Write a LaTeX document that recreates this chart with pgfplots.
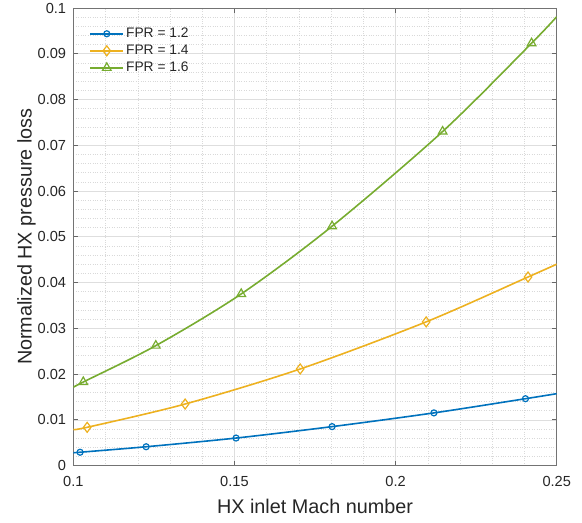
\documentclass[border=0pt]{standalone}
\usepackage{fontspec}
\setmainfont{Liberation Sans}
\usepackage{pgfplots}
\pgfplotsset{compat=1.18}
\usetikzlibrary{plotmarks}
\definecolor{mblue}{rgb}{0,0.447,0.741}
\definecolor{myellow}{rgb}{0.929,0.694,0.125}
\definecolor{mgreen}{rgb}{0.466,0.674,0.188}
\definecolor{txtgray}{rgb}{0.15,0.15,0.15}
\pgfplotsset{
  legmark/.style 2 args={legend image code/.code={%
    \draw[##1, mark=#1, mark size=#2, mark repeat=2, mark phase=2, mark options={solid, line width=1.2pt}]
      plot coordinates {(0pt,0pt) (16.5pt,0pt) (33pt,0pt)};}},
}
\begin{document}
\begin{tikzpicture}
\begin{axis}[
  scale only axis, width=483.4pt, height=457.5pt,
  xmin=0.1, xmax=0.25, ymin=0, ymax=0.1,
  xtick={0.1,0.15,0.2,0.25}, xticklabels={0.1,0.15,0.2,0.25},
  ytick={0,0.01,0.02,0.03,0.04,0.05,0.06,0.07,0.08,0.09,0.1},
  yticklabels={0,0.01,0.02,0.03,0.04,0.05,0.06,0.07,0.08,0.09,0.1},
  minor x tick num=4, minor y tick num=4,
  grid=both,
  major grid style={black!13, line width=0.5pt},
  minor grid style={black!15, dotted, line width=0.5pt},
  tick align=inside,
  major tick length=5pt, minor tick length=0pt,
  axis line style={black!55, line width=0.7pt},
  tick style={black!60, line width=0.7pt},
  /pgf/number format/assume math mode=true,
  tick label style={font=\fontsize{14.6}{17}\selectfont, text=txtgray},
  xticklabel style={anchor=north, inner sep=0pt, yshift=-10.5pt},
  yticklabel style={anchor=east, inner sep=0pt, xshift=-7pt},
  xlabel={HX inlet Mach number},
  ylabel={Normalized HX pressure loss},
  label style={font=\fontsize{19.8}{23}\selectfont, text=txtgray},
  xlabel style={at={(axis description cs:0.5,-0.1045)}, anchor=base, inner sep=0pt},
  ylabel style={at={(axis description cs:-0.0861,0.5)}, anchor=base, inner sep=0pt},
  legend style={at={(axis description cs:0,1)}, anchor=north west,
    xshift=13pt, yshift=-16pt, draw=none, fill=none,
    font=\fontsize{13.8}{16}\selectfont, text=txtgray, row sep=2pt},
  legend cell align=left,
]
% FPR = 1.2
\addplot[mblue, line width=1.6pt, smooth, legmark={o}{3pt}]
  coordinates {(0.1,0.0028) (0.1021,0.0029) (0.1226,0.0041) (0.1505,0.0060) (0.1803,0.0085) (0.2119,0.0115) (0.2403,0.0146) (0.25,0.0157)};
\addlegendentry{FPR = 1.2}
% FPR = 1.4
\addplot[myellow, line width=1.6pt, smooth, legmark={diamond}{5pt}]
  coordinates {(0.1,0.0079) (0.1043,0.00835) (0.1347,0.01344) (0.1704,0.0211) (0.2095,0.0314) (0.2411,0.0412) (0.25,0.0440)};
\addlegendentry{FPR = 1.4}
% FPR = 1.6
\addplot[mgreen, line width=1.6pt, smooth, legmark={triangle}{5pt}]
  coordinates {(0.1,0.0171) (0.1031,0.01825) (0.1256,0.0262) (0.1521,0.0375) (0.1803,0.0523) (0.2146,0.0730) (0.2422,0.0923) (0.25,0.0981)};
\addlegendentry{FPR = 1.6}
% markers
\addplot[mblue, only marks, mark=o, mark size=3pt, mark options={line width=1.2pt}, forget plot]
  coordinates {(0.1021,0.0029) (0.1226,0.0041) (0.1505,0.0060) (0.1803,0.0085) (0.2119,0.0115) (0.2403,0.0146)};
\addplot[myellow, only marks, mark=diamond, mark size=5pt, mark options={line width=1.2pt}, forget plot]
  coordinates {(0.1043,0.00835) (0.1347,0.01344) (0.1704,0.0211) (0.2095,0.0314) (0.2411,0.0412)};
\addplot[mgreen, only marks, mark=triangle, mark size=5pt, mark options={line width=1.2pt}, forget plot]
  coordinates {(0.1031,0.01825) (0.1256,0.0262) (0.1521,0.0375) (0.1803,0.0523) (0.2146,0.0730) (0.2422,0.0923)};
\end{axis}
\path (current axis.south west) ++(-73.3pt,-56.5pt) coordinate (bbsw);
\path (current axis.north east) ++(25.3pt,8pt) coordinate (bbne);
\path[use as bounding box] (bbsw) rectangle (bbne);
\end{tikzpicture}
\end{document}
